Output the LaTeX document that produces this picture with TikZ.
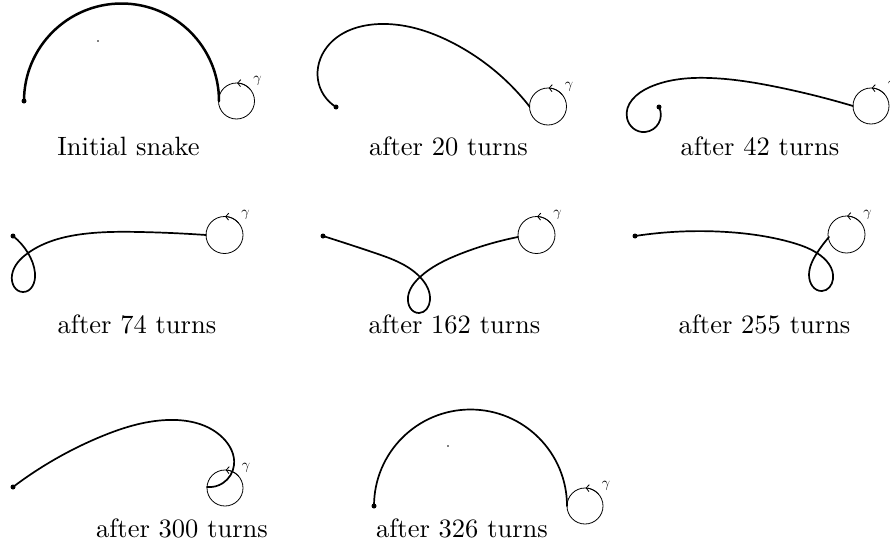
\documentclass[tikz,border=0pt]{standalone}
\usetikzlibrary{arrows.meta,hobby}
\tikzset{
  snake/.style={line width=1.7pt, line join=round, line cap=round},
  thicksnake/.style={line width=2.5pt},
  ring/.style={line width=0.8pt},
  ringarrow/.style={line width=0.8pt, -{Straight Barb[length=3pt,width=7pt]}},
  gam/.style={inner sep=0pt, scale=1.45},
  lab/.style={inner sep=0pt, anchor=base, scale=2.65},
  enddot/.style={circle, fill=black, inner sep=0pt, minimum size=5pt},
  middot/.style={circle, fill=black, inner sep=0pt, minimum size=1.8pt}
}
\begin{document}
\begin{tikzpicture}[x=1pt,y=-1pt]
\useasboundingbox (0,0) rectangle (890,546);

% ---------- Panel 1: Initial snake
\coordinate (c1) at (236.5,101);
\node[enddot] (d1) at (24,101) {};
\node[middot] (m1) at (98,41) {};
\draw[snake,thicksnake] (d1.center) arc[start angle=180,end angle=0,radius=97.5pt];
\draw[ring] (c1) circle[radius=18pt];
\draw[ringarrow] (c1) ++(40:18pt) arc[start angle=40,end angle=88,radius=18pt];
\node[gam] (g1) at ([shift={(21,-20)}]c1) {$\gamma$};
\node[lab] (t1) at (128.5,155) {Initial snake};

% ---------- Panel 2: after 20 turns
\coordinate (c2) at (548,106.5);
\node[enddot] (d2) at (336,107) {};
\draw[snake,use Hobby shortcut] (336,107) .. (318,80) .. (327,47) .. (380,24) .. (453,43) .. (529.5,106.5);
\draw[ring] (c2) circle[radius=18.5pt];
\draw[ringarrow] (c2) ++(40:18.5pt) arc[start angle=40,end angle=88,radius=18.5pt];
\node[gam] (g2) at ([shift={(21,-20)}]c2) {$\gamma$};
\node[lab] (t2) at (448.5,155) {after 20 turns};

% ---------- Panel 3: after 42 turns
\coordinate (c3) at (871,106);
\node[enddot] (d3) at (659,107) {};
\draw[snake,use Hobby shortcut] (659,107) .. (645,132) .. (627,118) .. (650,87) .. (710,78) .. (777,87) .. (853,106);
\draw[ring] (c3) circle[radius=18pt];
\draw[ringarrow] (c3) ++(40:18pt) arc[start angle=40,end angle=88,radius=18pt];
\node[gam] (g3) at ([shift={(21,-20)}]c3) {$\gamma$};
\node[lab] (t3) at (760,155) {after 42 turns};

% ---------- Panel 4: after 74 turns
\coordinate (c4) at (224.5,235);
\node[enddot] (d4) at (13,236) {};
\draw[snake,use Hobby shortcut] (13,236) .. (28,253) .. (35,273) .. (23,292) .. (12,275) .. (28,253) .. (83,234) .. (140,232) .. (206,235);
\draw[ring] (c4) circle[radius=18.5pt];
\draw[ringarrow] (c4) ++(40:18.5pt) arc[start angle=40,end angle=88,radius=18.5pt];
\node[gam] (g4) at ([shift={(21,-20)}]c4) {$\gamma$};
\node[lab] (t4) at (137,333) {after 74 turns};

% ---------- Panel 5: after 162 turns
\coordinate (c5) at (536.5,235);
\node[enddot] (d5) at (323,236) {};
\draw[snake,use Hobby shortcut] (323,236) .. (375,253) .. (420,277) .. (430,300) .. (419,313) .. (408,297) .. (420,277) .. (460,254) .. (518,237);
\draw[ring] (c5) circle[radius=18.5pt];
\draw[ringarrow] (c5) ++(40:18.5pt) arc[start angle=40,end angle=88,radius=18.5pt];
\node[gam] (g5) at ([shift={(21,-20)}]c5) {$\gamma$};
\node[lab] (t5) at (454.5,333) {after 162 turns};

% ---------- Panel 6: after 255 turns
\coordinate (c6) at (846.5,234.5);
\node[enddot] (d6) at (635,236) {};
\draw[snake,use Hobby shortcut] (635,236) .. (727,232) .. (790,242) .. (817,253) .. (833,279) .. (822,291) .. (809,275) .. (817,253) .. (829,237);
\draw[ring] (c6) circle[radius=18.5pt];
\draw[ringarrow] (c6) ++(40:18.5pt) arc[start angle=40,end angle=88,radius=18.5pt];
\node[gam] (g6) at ([shift={(21,-20)}]c6) {$\gamma$};
\node[lab] (t6) at (764.5,333) {after 255 turns};

% ---------- Panel 7: after 300 turns
\coordinate (c7) at (225,488);
\node[enddot] (d7) at (13,487) {};
\draw[snake,use Hobby shortcut] (13,487) .. (100,437) .. (167,420) .. (223,438) .. (234,465) .. (223,483) .. (207,487);
\draw[ring] (c7) circle[radius=18pt];
\draw[ringarrow] (c7) ++(40:18pt) arc[start angle=40,end angle=88,radius=18pt];
\node[gam] (g7) at ([shift={(21,-20)}]c7) {$\gamma$};
\node[lab] (t7) at (182,537) {after 300 turns};

% ---------- Panel 8: after 326 turns
\coordinate (c8) at (585,506);
\node[enddot] (d8) at (374,506) {};
\node[middot] (m8) at (448,446) {};
\draw[snake] (d8.center) arc[start angle=180,end angle=0,radius=96.5pt];
\draw[ring] (c8) circle[radius=18pt];
\draw[ringarrow] (c8) ++(40:18pt) arc[start angle=40,end angle=88,radius=18pt];
\node[gam] (g8) at ([shift={(21,-20)}]c8) {$\gamma$};
\node[lab] (t8) at (462,537) {after 326 turns};
\end{tikzpicture}
\end{document}
